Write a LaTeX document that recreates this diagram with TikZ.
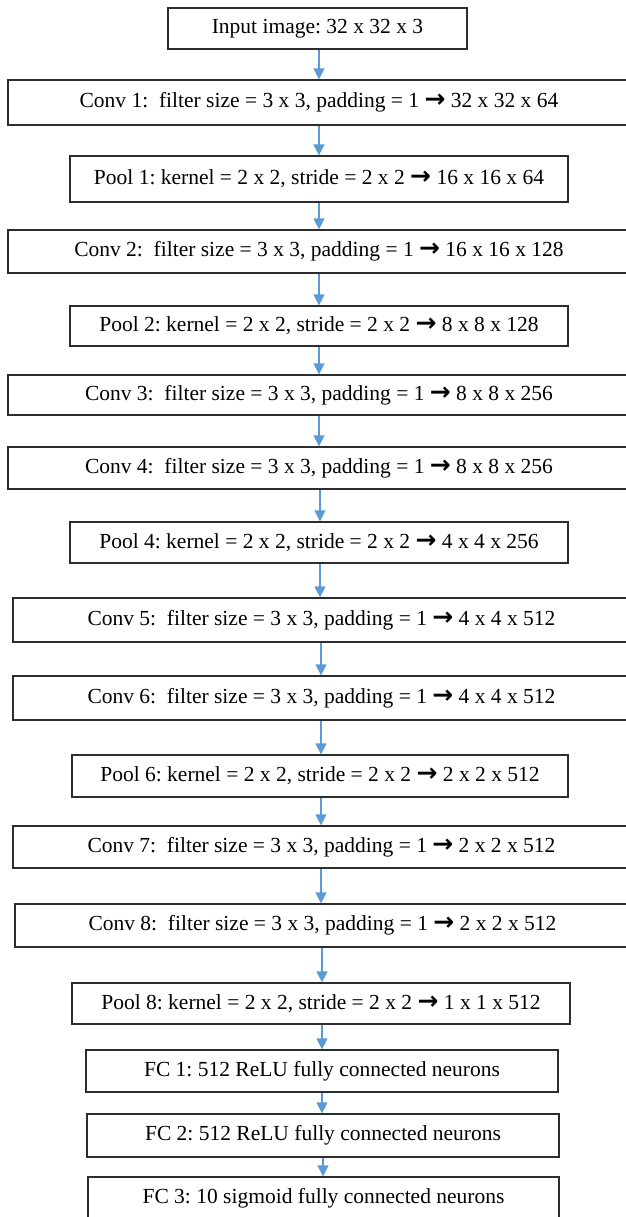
\documentclass[tikz,border=0pt]{standalone}
\usepackage{fontspec}
\setmainfont{Liberation Serif}
\newfontfamily\arrowfont{DejaVu Sans}
\usetikzlibrary{arrows.meta}
\definecolor{arrowblue}{RGB}{91,155,213}
\definecolor{boxline}{RGB}{45,45,45}
\newcommand{\ra}{{\arrowfont\bfseries\fontsize{25}{26}\selectfont →}}
\begin{document}
\frenchspacing
\begin{tikzpicture}[x=1pt,y=-1pt,
  layer/.style={draw=boxline,line width=1.2pt,inner sep=0pt,align=center,
    font=\fontsize{21.5}{26}\selectfont\frenchspacing},
  flow/.style={draw=arrowblue,line width=1.2pt,-{Triangle[width=11pt,length=11pt]}}]
\useasboundingbox (0,0) rectangle (625,1217);
\def\bx#1#2#3#4#5#6{\node[layer,minimum width=#3-#2,minimum height=#5-#4] (#1) at ({(#2+#3)/2},{(#4+#5)/2}) {#6};}
\bx{in}{168}{467}{8}{49}{Input image: 32 x 32 x 3}
\bx{c1}{8}{630}{80}{125}{Conv 1:\ \ filter size = 3 x 3, padding = 1 \ra{} 32 x 32 x 64}
\bx{p1}{70}{568}{156}{202}{Pool 1: kernel = 2 x 2, stride = 2 x 2 \ra{} 16 x 16 x 64}
\bx{c2}{8}{630}{230}{273}{Conv 2:\ \ filter size = 3 x 3, padding = 1 \ra{} 16 x 16 x 128}
\bx{p2}{70}{568}{306}{346}{Pool 2: kernel = 2 x 2, stride = 2 x 2 \ra{} 8 x 8 x 128}
\bx{c3}{8}{630}{375}{415}{Conv 3:\ \ filter size = 3 x 3, padding = 1 \ra{} 8 x 8 x 256}
\bx{c4}{8}{630}{447}{489}{Conv 4:\ \ filter size = 3 x 3, padding = 1 \ra{} 8 x 8 x 256}
\bx{p4}{70}{568}{522}{563}{Pool 4: kernel = 2 x 2, stride = 2 x 2 \ra{} 4 x 4 x 256}
\bx{c5}{13}{630}{598}{642}{Conv 5:\ \ filter size = 3 x 3, padding = 1 \ra{} 4 x 4 x 512}
\bx{c6}{13}{630}{676}{720}{Conv 6:\ \ filter size = 3 x 3, padding = 1 \ra{} 4 x 4 x 512}
\bx{p6}{72}{568}{755}{797}{Pool 6: kernel = 2 x 2, stride = 2 x 2 \ra{} 2 x 2 x 512}
\bx{c7}{13}{630}{826}{868}{Conv 7:\ \ filter size = 3 x 3, padding = 1 \ra{} 2 x 2 x 512}
\bx{c8}{15}{630}{904}{947}{Conv 8:\ \ filter size = 3 x 3, padding = 1 \ra{} 2 x 2 x 512}
\bx{p8}{72}{570}{983}{1024}{Pool 8: kernel = 2 x 2, stride = 2 x 2 \ra{} 1 x 1 x 512}
\bx{f1}{86}{558}{1050}{1092}{FC 1: 512 ReLU fully connected neurons}
\bx{f2}{87}{559}{1114}{1157}{FC 2: 512 ReLU fully connected neurons}
\bx{f3}{88}{559}{1177}{1220}{FC 3: 10 sigmoid fully connected neurons}
\foreach \a/\b/\x in {in/c1/319,c1/p1/319,p1/c2/319,c2/p2/319,p2/c3/319,c3/c4/319,c4/p4/320,p4/c5/320,c5/c6/321,c6/p6/321,p6/c7/321,c7/c8/321,c8/p8/322,p8/f1/322,f1/f2/322,f2/f3/323}
  \draw[flow] (\a.south -| \x,0) -- (\b.north -| \x,0);
\end{tikzpicture}
\end{document}
